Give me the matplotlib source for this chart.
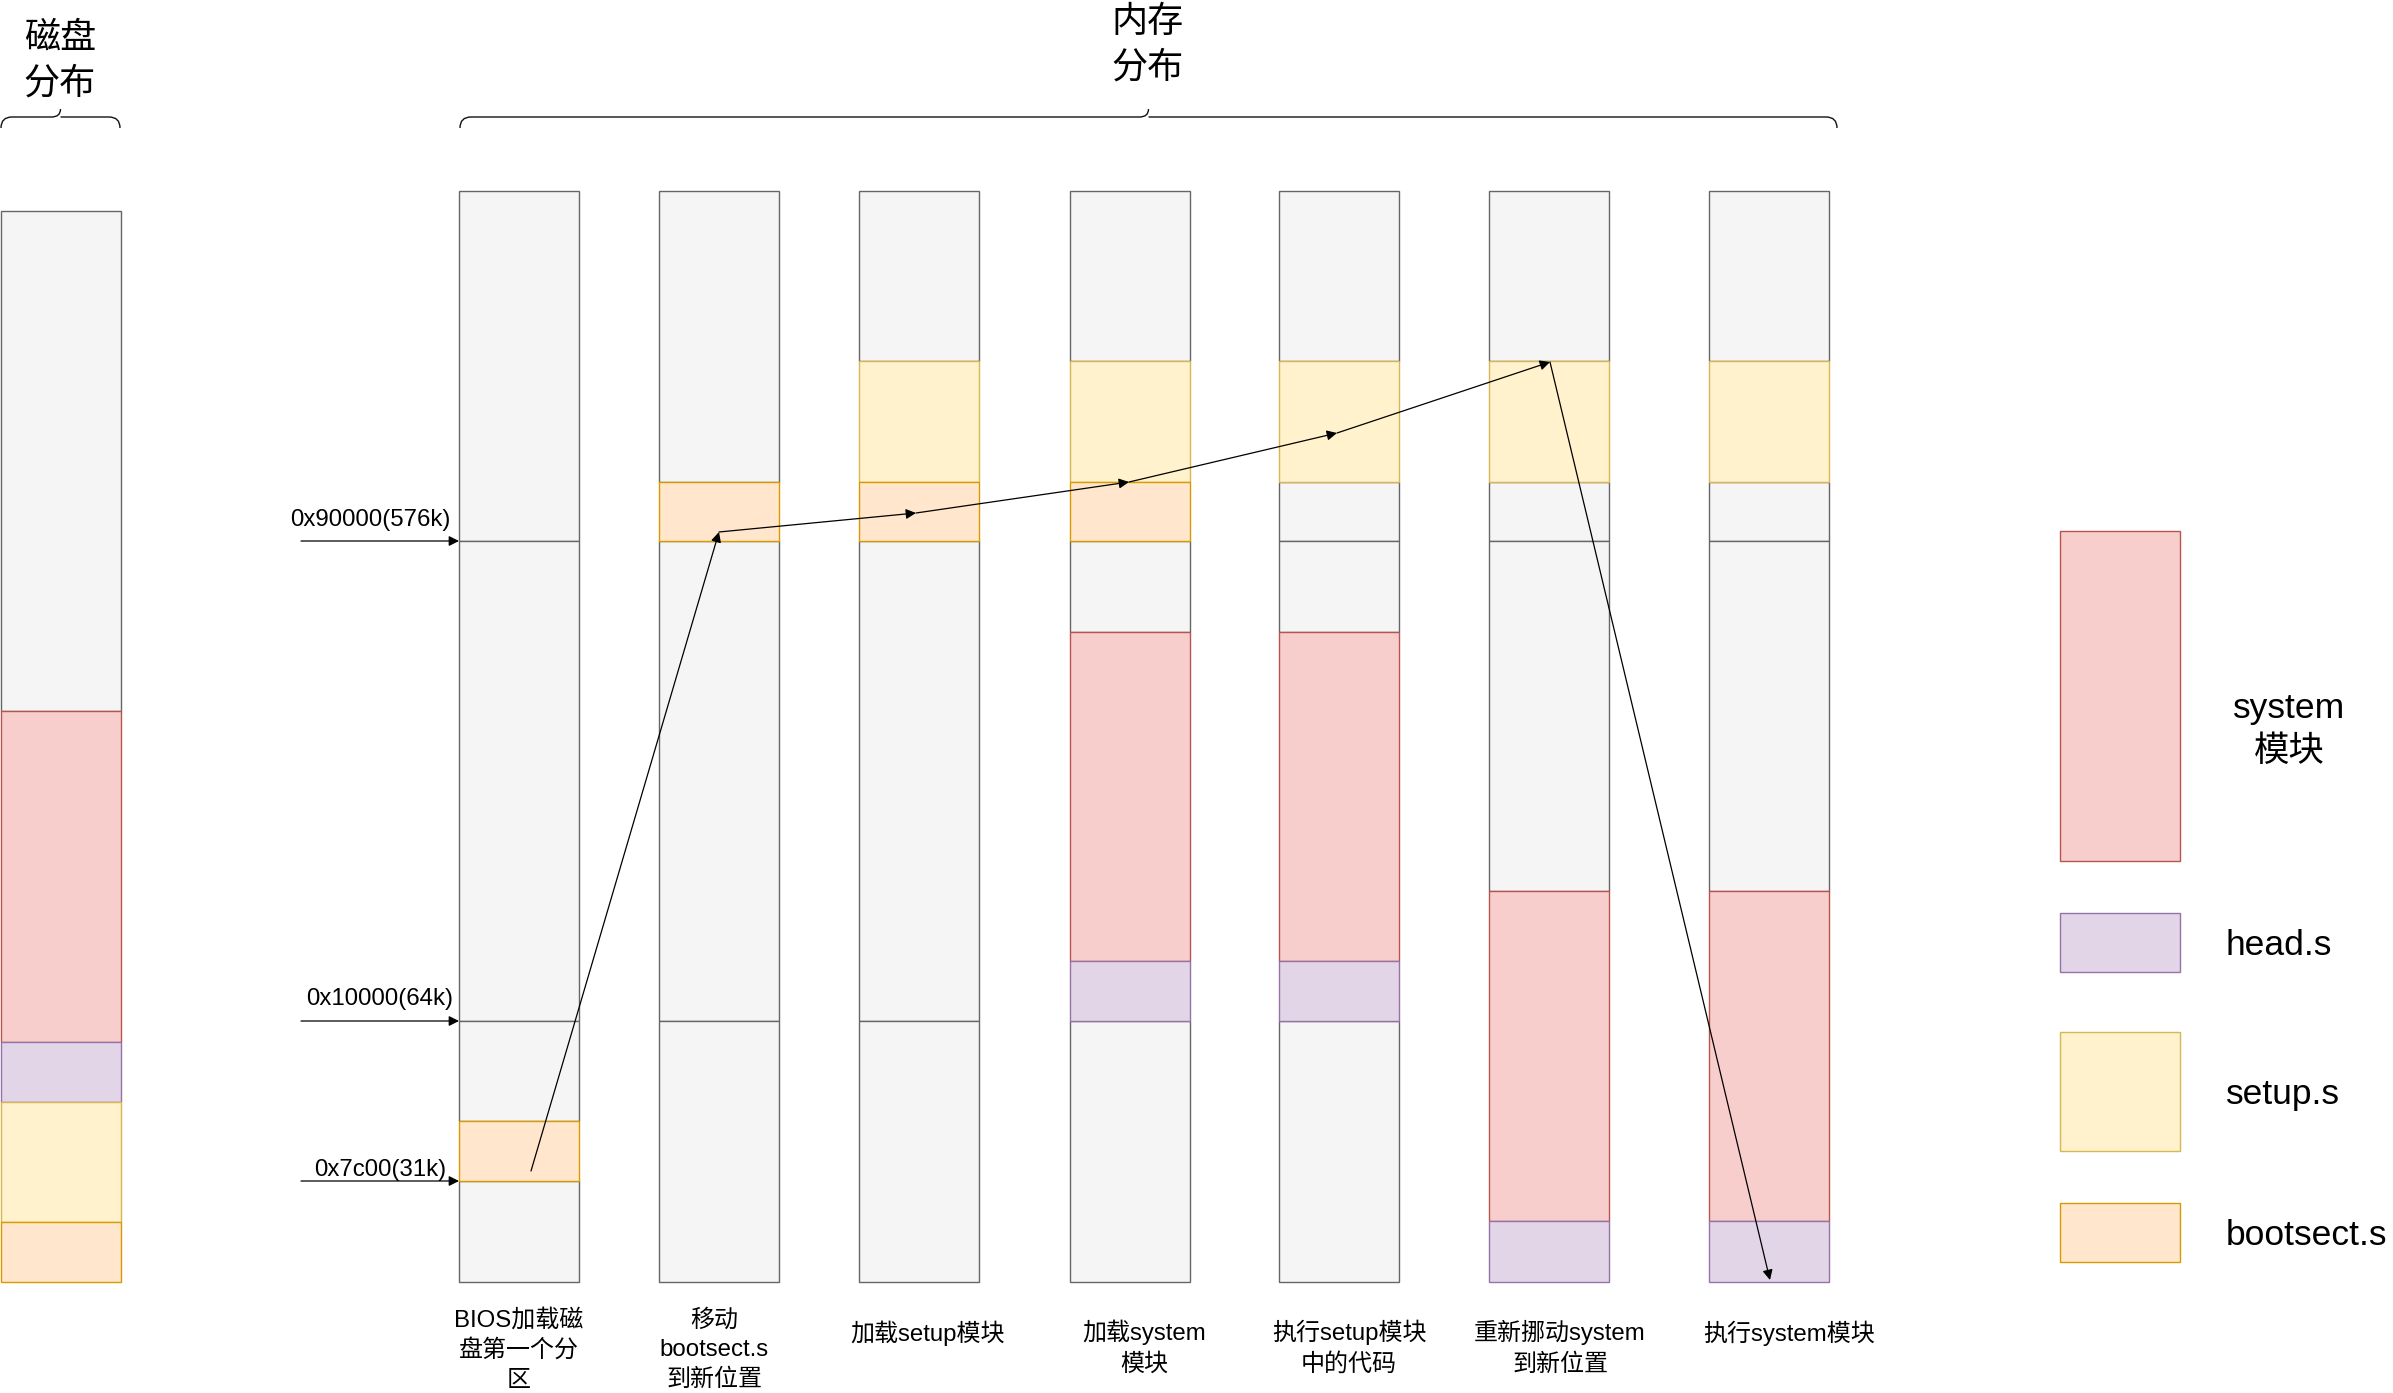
#!/usr/bin/env python3
"""
Linux 0.11 boot: disk layout and memory layout at each boot step
"""

import matplotlib
matplotlib.use("Agg")
import matplotlib.pyplot as plt
from matplotlib.path import Path
import matplotlib.patches as patches

plt.rcParams['font.family'] = ['Liberation Sans', 'Noto Sans CJK SC']

# fill / edge colour of each block kind
COLORS = {
    'free': ('#f5f5f5', '#666666'),
    'system': ('#f8cecc', '#b85450'),
    'head': ('#e1d5e7', '#9673a6'),
    'setup': ('#fff2cc', '#d6b656'),
    'bootsect': ('#ffe6cc', '#d79b00'),
}

# disk image: (kind, top, bottom)
disk_blocks = [('free', 211, 711), ('system', 711, 1042), ('head', 1042, 1102),
               ('setup', 1102, 1222), ('bootsect', 1222, 1282)]

# memory at each step: (kind, top, bottom)
mem_steps = [
    [('free', 191, 541), ('free', 541, 1021), ('free', 1021, 1121),
     ('bootsect', 1121, 1181), ('free', 1181, 1282)],
    [('free', 191, 482), ('bootsect', 482, 541), ('free', 541, 1021), ('free', 1021, 1282)],
    [('free', 191, 361), ('setup', 361, 482), ('bootsect', 482, 541),
     ('free', 541, 1021), ('free', 1021, 1282)],
    [('free', 191, 361), ('setup', 361, 482), ('bootsect', 482, 541), ('free', 541, 632),
     ('system', 632, 961), ('head', 961, 1021), ('free', 1021, 1282)],
    [('free', 191, 361), ('setup', 361, 482), ('free', 482, 541), ('free', 541, 632),
     ('system', 632, 961), ('head', 961, 1021), ('free', 1021, 1282)],
    [('free', 191, 361), ('setup', 361, 482), ('free', 482, 541), ('free', 541, 891),
     ('system', 891, 1221), ('head', 1221, 1282)],
    [('free', 191, 361), ('setup', 361, 482), ('free', 482, 541), ('free', 541, 891),
     ('system', 891, 1221), ('head', 1221, 1282)],
]
step_labels = ['BIOS加载磁\n盘第一个分\n区', '移动\nbootsect.s\n到新位置', '加载setup模块',
               '加载system\n模块', '执行setup模块\n中的代码', '重新挪动system\n到新位置',
               '执行system模块']

addr_labels = ['0x90000(576k)', '0x10000(64k)', '0x7c00(31k)']
addr_y = [541, 1021, 1181]

# path of bootsect.s -> setup.s -> system
flow_pts = [(531, 1171), (719, 532), (916, 513), (1129, 482), (1337, 433),
            (1550, 362), (1770, 1280)]

legend_kinds = ['system', 'head', 'setup', 'bootsect']
legend_labels = ['system\n模块', 'head.s', 'setup.s', 'bootsect.s']
legend_spans = [(531, 861), (913, 972), (1032, 1151), (1203, 1262)]

# layout
W, H = 2393, 1393
COL_W = 120
disk_x = 0
mem_x = [459, 659, 859, 1070, 1279, 1489, 1709]
label_cx = [519, 714, 928, 1144, 1349, 1560, 1789]
label_cy = [1350, 1350, 1333, 1348, 1348, 1348, 1333]
addr_cx = [370, 380, 380]
addr_ty = [520, 999, 1170]
legend_x = 2060


def draw_column(ax, x, blocks):
    # grey blocks first so coloured outlines stay on top
    ordered = [b for b in blocks if b[0] == 'free'] + [b for b in blocks if b[0] != 'free']
    for kind, top, bottom in ordered:
        fc, ec = COLORS[kind]
        ax.bar(x, bottom - top, bottom=top, width=COL_W, align='edge',
               color=fc, edgecolor=ec, linewidth=1.0)


def draw_brace(ax, x0, x1, y, tip):
    xm = (x0 + x1) / 2
    verts = [(x0, y + 11), (x0, y), (x0 + 11, y),
             (xm - 9, y), (xm, y), (xm, y - tip),
             (xm, y), (xm + 9, y),
             (x1 - 11, y), (x1, y), (x1, y + 11)]
    codes = [Path.MOVETO, Path.CURVE3, Path.CURVE3,
             Path.LINETO, Path.CURVE3, Path.CURVE3,
             Path.MOVETO, Path.LINETO,
             Path.LINETO, Path.CURVE3, Path.CURVE3]
    ax.add_patch(patches.PathPatch(Path(verts, codes), fill=False,
                                   edgecolor='#111111', linewidth=1.0))


def arrow(ax, p0, p1):
    ax.annotate('', xy=p1, xytext=p0,
                arrowprops=dict(arrowstyle='-|>,head_length=0.6,head_width=0.3',
                                mutation_scale=10, color='black', lw=0.9,
                                shrinkA=0, shrinkB=0))


fig = plt.figure(figsize=(W / 100, H / 100), dpi=100)
ax = fig.add_axes([0, 0, 1, 1])
ax.set_xlim(0, W)
ax.set_ylim(H, 0)
ax.axis('off')

# disk
draw_column(ax, disk_x + 0.5, disk_blocks)
draw_brace(ax, 1, 120, 117, 8)
ax.text(60, 61, '磁盘\n分布', ha='center', va='center', fontsize=26, linespacing=1.38)

# memory steps
for x, blocks in zip(mem_x, mem_steps):
    draw_column(ax, x, blocks)
for cx, cy, lab in zip(label_cx, label_cy, step_labels):
    ax.text(cx, cy, lab, ha='center', va='center', fontsize=17.3, linespacing=1.45)
draw_brace(ax, 460, 1837, 117, 8)
ax.text(1148, 45, '内存\n分布', ha='center', va='center', fontsize=26, linespacing=1.38)

# address markers
for lab, y, cx, ty in zip(addr_labels, addr_y, addr_cx, addr_ty):
    arrow(ax, (301, y), (mem_x[0], y))
    ax.text(cx, ty, lab, ha='center', va='center', fontsize=17.3)

# move path
for p0, p1 in zip(flow_pts[:-1], flow_pts[1:]):
    arrow(ax, p0, p1)

# legend
for kind, lab, (top, bottom) in zip(legend_kinds, legend_labels, legend_spans):
    fc, ec = COLORS[kind]
    ax.bar(legend_x, bottom - top, bottom=top, width=COL_W, align='edge',
           color=fc, edgecolor=ec, linewidth=1.0)
    cy = (top + bottom) / 2
    if kind == 'system':
        ax.text(2289, 730, lab, ha='center', va='center', fontsize=25.5, linespacing=1.35)
    else:
        ax.text(2226, cy + 3, lab, ha='left', va='center', fontsize=25.5)

fig.savefig('out.png', dpi=100)
